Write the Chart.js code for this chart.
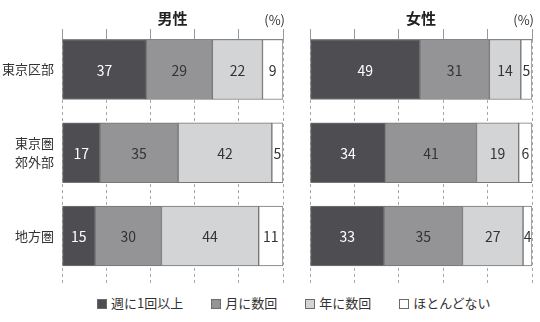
<!DOCTYPE html>
<html lang="ja">
<head>
<meta charset="utf-8">
<script src="https://cdn.jsdelivr.net/npm/chart.js@4"></script>
<style>
  body { margin: 0; background: #fff; font-family: "Noto Sans CJK JP", "Noto Sans", sans-serif; }
  #wrap { position: relative; width: 540px; height: 322px; }
  #male { position: absolute; left: 0; top: 0; }
  #female { position: absolute; left: 292px; top: 0; }
  #legend { position: absolute; left: 97px; top: 294px; display: flex; gap: 28px; font-size: 13px; color: #333; line-height: 18px; }
  #legend span.box { display: inline-block; width: 10px; height: 10px; border: 1px solid #6a6a6a; margin-right: 4px; vertical-align: -1px; box-sizing: border-box; }
</style>
</head>
<body>
<div id="wrap">
  <canvas id="male" width="292" height="292"></canvas>
  <canvas id="female" width="248" height="292"></canvas>
  <div id="legend"></div>
</div>
<script>
// rows (top to bottom) and their axis text
const categories = ['東京区部', '東京圏郊外部', '地方圏'];
const categoryLines = [['東京区部'], ['東京圏', '郊外部'], ['地方圏']];
const seriesNames = ['週に1回以上', '月に数回', '年に数回', 'ほとんどない'];
const seriesColors = ['#4e4d52', '#949497', '#d3d4d6', '#ffffff'];

// 男性
const maleWeekly = [37, 17, 15];
const maleMonthly = [29, 35, 30];
const maleYearly = [22, 42, 44];
const maleRarely = [9, 5, 11];
// 女性
const femaleWeekly = [49, 34, 33];
const femaleMonthly = [31, 41, 35];
const femaleYearly = [14, 19, 27];
const femaleRarely = [5, 6, 4];

const FONT = '"Noto Sans CJK JP", "Noto Sans", sans-serif';

//bars are drawn as share of the row total (100% stacked), labels keep the printed numbers
function makeDatasets(series) {
  const totals = categories.map((c, i) => series.reduce((s, arr) => s + arr[i], 0));
  return series.map((arr, k) => ({
    label: seriesNames[k],
    values: arr,
    stack: 'row',
    data: arr.map((v, i) => ({ x: v / totals[i] * 100, y: i })),
    backgroundColor: seriesColors[k],
    borderColor: '#767676',
    borderWidth: 1,
    borderSkipped: false,
    barThickness: 60
  }));
}

//numbers inside the bars
const valueLabels = {
  id: 'valueLabels',
  afterDatasetsDraw(chart) {
    const ctx = chart.ctx;
    ctx.save();
    ctx.font = '14px ' + FONT;
    ctx.textAlign = 'center';
    ctx.textBaseline = 'middle';
    chart.data.datasets.forEach((ds, k) => {
      const meta = chart.getDatasetMeta(k);
      meta.data.forEach((bar, i) => {
        const p = bar.getProps(['x', 'y', 'base'], true);
        ctx.fillStyle = k === 0 ? '#ffffff' : '#333333';
        ctx.fillText(String(ds.values[i]), (p.x + p.base) / 2, p.y + 1);
      });
    });
    ctx.restore();
  }
};

//(%) unit at top right of each panel
const unitLabel = {
  id: 'unitLabel',
  afterDraw(chart) {
    const ctx = chart.ctx;
    ctx.save();
    ctx.font = '13px ' + FONT;
    ctx.fillStyle = '#333';
    ctx.textAlign = 'right';
    ctx.textBaseline = 'middle';
    ctx.fillText('(%)', chart.chartArea.right + 2, 20);
    ctx.restore();
  }
};

function makeChart(id, title, series, showRows, pad) {
  return new Chart(document.getElementById(id), {
    type: 'bar',
    data: { datasets: makeDatasets(series) },
    options: {
      indexAxis: 'y',
      responsive: false,
      animation: false,
      layout: { padding: pad },
      plugins: { legend: { display: false }, tooltip: { enabled: false } },
      scales: {
        x: {
          position: 'top',
          stacked: true,
          min: 0,
          max: 100,
          afterFit: s => { s.height = 39; },
          ticks: { display: false, stepSize: 20 },
          grid: { color: '#a8a8a8', tickColor: '#999', tickLength: 10, tickBorderDash: [] },
          border: { display: true, color: '#999', width: 1, dash: [3, 3] },
          title: { display: true, text: title, color: '#222', font: { family: FONT, size: 15, weight: 'bold' }, padding: { top: 9, bottom: 0 } }
        },
        y: {
          type: 'linear',
          reverse: true,
          offset: false,
          min: -0.366,
          max: 2.589,
          display: showRows,
          afterFit: s => {
            s.width = showRows ? 62 : 0;
            s.paddingTop = 0;
            s.paddingBottom = 0;
          },
          afterBuildTicks: s => { s.ticks = categories.map((c, i) => ({ value: i })); },
          ticks: {
            padding: 8,
            color: '#333',
            font: { family: FONT, size: 13, lineHeight: 1.45 },
            callback: v => categoryLines[v]
          },
          grid: { display: false, drawTicks: false, offset: false },
          border: { display: false }
        }
      }
    },
    plugins: [valueLabels, unitLabel]
  });
}

const maleChart = makeChart('male', '男性', [maleWeekly, maleMonthly, maleYearly, maleRarely], true,
  { left: 0, right: 9, top: 0, bottom: 7 });
const femaleChart = makeChart('female', '女性', [femaleWeekly, femaleMonthly, femaleYearly, femaleRarely], false,
  { left: 18, right: 8, top: 0, bottom: 7 });

//legend
const legend = document.getElementById('legend');
legend.innerHTML = seriesNames.map((name, k) =>
  `<div><span class="box" style="background:${seriesColors[k]}"></span>${name}</div>`).join('');
</script>
</body>
</html>
